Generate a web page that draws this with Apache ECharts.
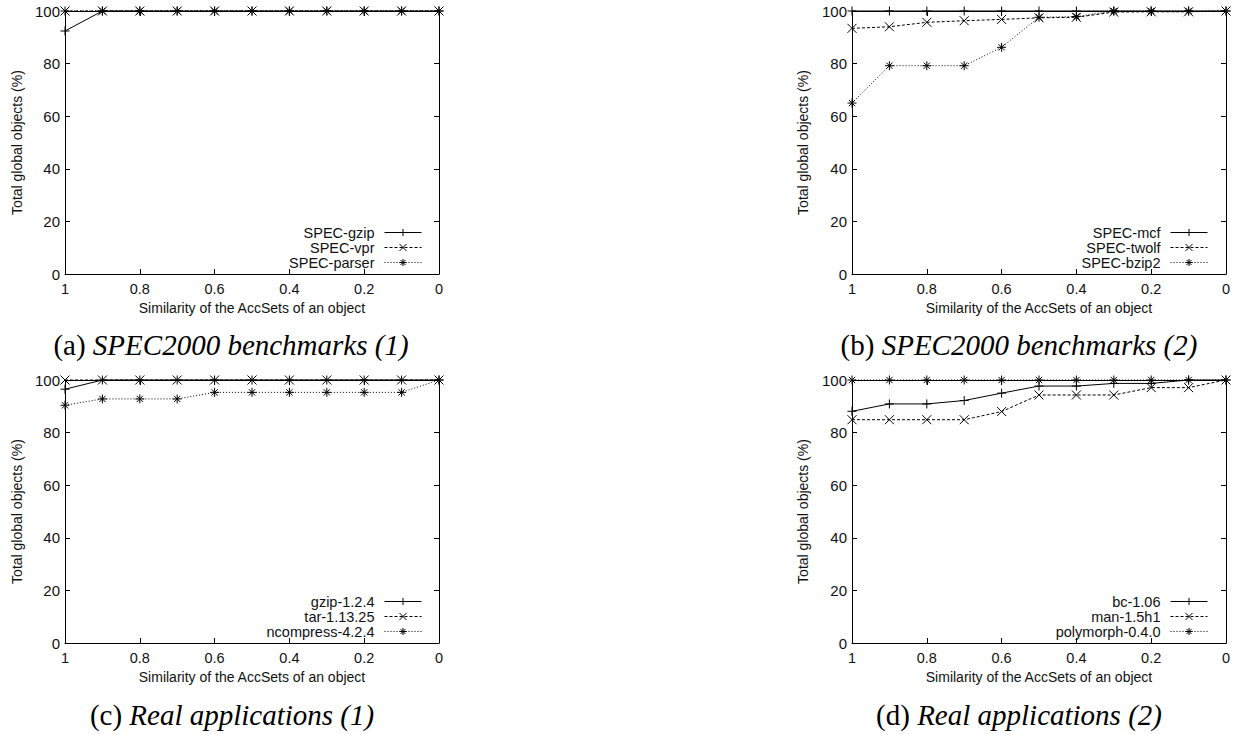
<!DOCTYPE html>
<html>
<head>
<meta charset="utf-8">
<script src="https://cdn.jsdelivr.net/npm/echarts@6/dist/echarts.min.js"></script>
<style>
html,body{margin:0;padding:0;background:#fff;}
#chart{width:1239px;height:734px;}
</style>
</head>
<body>
<div id="chart"></div>
<script>
// ---- data ----
const simX = [1, 0.9, 0.8, 0.7, 0.6, 0.5, 0.4, 0.3, 0.2, 0.1, 0];
const xTicks = ['1', '0.8', '0.6', '0.4', '0.2', '0'];
const yTicks = [0, 20, 40, 60, 80, 100];

const captionsTag = ['(a) ', '(b) ', '(c) ', '(d) '];
const captionsText = ['SPEC2000 benchmarks (1)', 'SPEC2000 benchmarks (2)', 'Real applications (1)', 'Real applications (2)'];

const namesA = ['SPEC-gzip', 'SPEC-vpr', 'SPEC-parser'];
const specGzip   = [92.4, 100, 100, 100, 100, 100, 100, 100, 100, 100, 100];
const specVpr    = [100, 100, 100, 100, 100, 100, 100, 100, 100, 100, 100];
const specParser = [100, 100, 100, 100, 100, 100, 100, 100, 100, 100, 100];

const namesB = ['SPEC-mcf', 'SPEC-twolf', 'SPEC-bzip2'];
const specMcf   = [100, 100, 100, 100, 100, 100, 100, 100, 100, 100, 100];
const specTwolf = [93.4, 94.0, 95.7, 96.3, 96.8, 97.4, 97.6, 99.6, 99.7, 99.7, 100];
const specBzip2 = [65.0, 79.2, 79.2, 79.2, 86.2, 97.6, 97.9, 100, 100, 100, 100];

const namesC = ['gzip-1.2.4', 'tar-1.13.25', 'ncompress-4.2.4'];
const gzip124  = [96.5, 100, 100, 100, 100, 100, 100, 100, 100, 100, 100];
const tar11325 = [100, 100, 100, 100, 100, 100, 100, 100, 100, 100, 100];
const ncompress = [90.4, 92.8, 92.8, 92.8, 95.3, 95.3, 95.3, 95.3, 95.3, 95.3, 100];

const namesD = ['bc-1.06', 'man-1.5h1', 'polymorph-0.4.0'];
const bc106     = [88.1, 90.9, 90.9, 92.2, 95.0, 97.7, 97.7, 98.7, 98.7, 100, 100];
const man15h1   = [84.9, 84.9, 84.9, 84.9, 88.0, 94.3, 94.3, 94.3, 97.1, 97.1, 100];
const polymorph = [100, 100, 100, 100, 100, 100, 100, 100, 100, 100, 100];

// ---- styling / layout ----
const panelNames = [namesA, namesB, namesC, namesD];
const panelValues = [
  [specGzip, specVpr, specParser],
  [specMcf, specTwolf, specBzip2],
  [gzip124, tar11325, ncompress],
  [bc106, man15h1, polymorph]
];
const grids = [
  {left: 65, top: 11, width: 374, height: 263},
  {left: 852, top: 11, width: 374, height: 263},
  {left: 65, top: 380, width: 374, height: 263},
  {left: 852, top: 380, width: 374, height: 263}
];
const captionPos = [[231, 345], [1019, 345], [232, 715], [1019, 715]];
const legendPos = [
  {right: 1239 - 422, top: 225},
  {right: 1239 - 1208, top: 225},
  {right: 1239 - 422, top: 594},
  {right: 1239 - 1208, top: 594}
];
const yNameGap = [41, 42, 41, 42];

const SYM = [
  'path://M0,5L10,5M5,0L5,10',
  'path://M0,0L10,10M10,0L0,10',
  'path://M0,5L10,5M5,0L5,10M1.5,1.5L8.5,8.5M8.5,1.5L1.5,8.5'
];
const DASH = ['solid', [3, 2], [1, 2]];

const sans = 'Liberation Sans, Arial, sans-serif';
const txt = '#111';

const xAxes = [], yAxes = [], series = [], legends = [], graphics = [];
grids.forEach((g, i) => {
  xAxes.push({
    type: 'value', gridIndex: i, min: 0, max: 1, interval: 0.2, inverse: true, position: 'bottom',
    name: 'Similarity of the AccSets of an object', nameLocation: 'middle', nameGap: 27,
    nameTextStyle: {fontFamily: sans, fontSize: 14, color: txt},
    axisLine: {show: true, onZero: false, lineStyle: {color: '#000', width: 1}},
    axisTick: {show: true, inside: true, length: 5, lineStyle: {color: '#000'}},
    axisLabel: {show: true, margin: 7, fontFamily: sans, fontSize: 14.5, color: txt,
      formatter: v => xTicks[Math.round((1 - v) / 0.2)]},
    splitLine: {show: false}
  });
  xAxes.push({
    type: 'value', gridIndex: i, min: 0, max: 1, interval: 0.2, inverse: true, position: 'top',
    axisLine: {show: true, onZero: false, lineStyle: {color: '#000', width: 1}},
    axisTick: {show: true, inside: true, length: 5, lineStyle: {color: '#000'}},
    axisLabel: {show: false}, splitLine: {show: false}
  });
  yAxes.push({
    type: 'value', gridIndex: i, min: 0, max: 100, interval: 20, position: 'left',
    name: 'Total global objects (%)', nameLocation: 'middle', nameGap: yNameGap[i],
    nameTextStyle: {fontFamily: sans, fontSize: 14, color: txt},
    axisLine: {show: true, onZero: false, lineStyle: {color: '#000', width: 1}},
    axisTick: {show: true, inside: true, length: 5, lineStyle: {color: '#000'}},
    axisLabel: {show: true, margin: 5, fontFamily: sans, fontSize: 15, color: txt,
      formatter: v => String(yTicks[Math.round(v / 20)])},
    splitLine: {show: false}
  });
  yAxes.push({
    type: 'value', gridIndex: i, min: 0, max: 100, interval: 20, position: 'right',
    axisLine: {show: true, onZero: false, lineStyle: {color: '#000', width: 1}},
    axisTick: {show: true, inside: true, length: 5, lineStyle: {color: '#000'}},
    axisLabel: {show: false}, splitLine: {show: false}
  });
  panelNames[i].forEach((nm, k) => {
    series.push({
      type: 'line', name: nm, xAxisIndex: 2 * i, yAxisIndex: 2 * i, clip: false,
      data: simX.map((x, j) => [x, panelValues[i][k][j]]),
      symbol: SYM[k], symbolSize: 9, showSymbol: true,
      lineStyle: {color: '#000', width: 1, type: DASH[k]},
      itemStyle: {color: 'none', borderColor: '#000', borderWidth: 1},
      emphasis: {disabled: true}, animation: false, z: 3 + k
    });
  });
  legends.push({
    data: panelNames[i], orient: 'vertical', align: 'right',
    right: legendPos[i].right, top: legendPos[i].top, padding: 0,
    itemWidth: 37, itemHeight: 9, itemGap: 0,
    textStyle: {fontFamily: sans, fontSize: 14.5, color: txt, lineHeight: 14.5, padding: [0, 5, 0, 0]},
    lineStyle: {width: 1},
    itemStyle: {borderWidth: 1, borderColor: '#000', color: 'none'},
    selectedMode: false
  });
  graphics.push({
    type: 'text', x: captionPos[i][0], y: captionPos[i][1],
    style: {
      text: '{t|' + captionsTag[i] + '}{s|' + captionsText[i] + '}',
      align: 'center', verticalAlign: 'middle',
      rich: {
        t: {fontFamily: 'Liberation Serif, Times New Roman, serif', fontSize: 29, color: '#222'},
        s: {fontFamily: 'Liberation Serif, Times New Roman, serif', fontSize: 29, fontStyle: 'italic', color: '#222'}
      }
    }
  });
});

const chart = echarts.init(document.getElementById('chart'), null, {renderer: 'svg'});
chart.setOption({
  animation: false,
  backgroundColor: '#fff',
  grid: grids,
  xAxis: xAxes,
  yAxis: yAxes,
  legend: legends,
  series: series,
  graphic: graphics
});
</script>
</body>
</html>
